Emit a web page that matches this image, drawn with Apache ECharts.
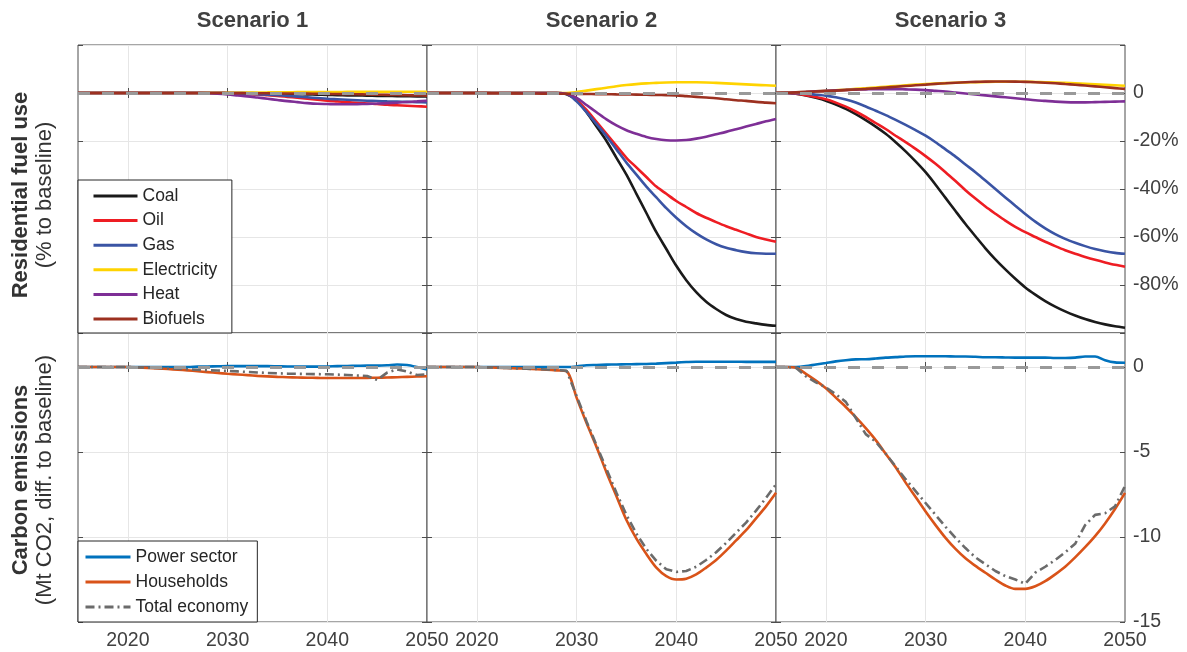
<!DOCTYPE html>
<html>
<head>
<meta charset="utf-8">
<title>Residential fuel use and carbon emissions by scenario</title>
<script src="https://cdn.jsdelivr.net/npm/echarts@6.0.0/dist/echarts.min.js"></script>
<style>
  html, body { margin: 0; padding: 0; background: #fff; }
  #chart { width: 1187px; height: 652px; }
</style>
</head>
<body>
<div id="chart"></div>
<script>
// ---- data -------------------------------------------------------------
const years = [2015, 2016, 2017, 2018, 2019, 2020, 2021, 2022, 2023, 2024,
               2025, 2026, 2027, 2028, 2029, 2030, 2031, 2032, 2033, 2034,
               2035, 2036, 2037, 2038, 2039, 2040, 2041, 2042, 2043, 2044,
               2045, 2046, 2047, 2048, 2049, 2050];

const scenarioTitles = ['Scenario 1', 'Scenario 2', 'Scenario 3'];
const xTickYears = [2020, 2030, 2040];
const xLabelYears = [2020, 2030, 2040, 2050];
const baselineLevel = 0;

// Residential fuel use, % change to baseline
const coalS1 = [0, 0, 0, 0, 0, 0, 0, 0, 0, 0, 0, 0, 0, 0, 0, 0, 0,
  -0.05, -0.1, -0.2, -0.3, -0.4, -0.5, -0.6, -0.7, -0.8, -0.9, -1.0, -1.05, -1.1, -1.2, -1.25, -1.3, -1.35, -1.4, -1.4];
const oilS1 = [0, 0, 0, 0, 0, 0, 0, 0, 0, 0, 0, 0, 0, 0, 0,
  -0.1, -0.2, -0.4, -0.6, -0.9, -1.2, -1.6, -2.0, -2.4, -2.8, -3.2, -3.5, -3.8, -4.1, -4.4, -4.6, -4.9, -5.1, -5.3, -5.5, -5.7];
const gasS1 = [0, 0, 0, 0, 0, 0, 0, 0, 0, 0, 0, 0, 0, 0, 0,
  -0.1, -0.2, -0.35, -0.5, -0.7, -0.95, -1.2, -1.5, -1.8, -2.1, -2.4, -2.6, -2.8, -3.0, -3.2, -3.35, -3.5, -3.6, -3.7, -3.8, -3.9];
const electricityS1 = [0, 0, 0, 0, 0, 0, 0, 0, 0, 0, 0, 0, 0, 0, 0,
  0.05, 0.1, 0.15, 0.2, 0.25, 0.3, 0.32, 0.35, 0.37, 0.4, 0.42, 0.44, 0.45, 0.46, 0.47, 0.48, 0.49, 0.5, 0.5, 0.5, 0.5];
const heatS1 = [0, 0, 0, 0, 0, 0, 0, 0, 0, 0, 0, 0, 0,
  -0.1, -0.3, -0.6, -1.0, -1.4, -1.9, -2.4, -2.9, -3.4, -3.8, -4.2, -4.5, -4.6, -4.7, -4.7, -4.65, -4.55, -4.4, -4.2, -4.0, -3.75, -3.5, -3.2];
const biofuelsS1 = [0, 0, 0, 0, 0, 0, 0, 0, 0, 0, 0, 0, 0, 0, 0,
  -0.02, -0.05, -0.08, -0.1, -0.13, -0.16, -0.2, -0.24, -0.28, -0.32, -0.36, -0.42, -0.48, -0.55, -0.62, -0.7, -0.78, -0.86, -0.94, -1.02, -1.1];

const coalS2 = [0, 0, 0, 0, 0, 0, 0, 0, 0, 0, 0, 0, 0, 0,
  -0.5, -3, -8, -14, -20, -27, -34, -42, -50, -58, -65, -72, -78, -83, -87, -90, -92.5, -94.2, -95.3, -96, -96.6, -97];
const oilS2 = [0, 0, 0, 0, 0, 0, 0, 0, 0, 0, 0, 0, 0, 0,
  -0.3, -3, -7, -12, -17, -22, -27, -31, -35, -39, -42, -45, -47.5, -50, -52, -53.8, -55.5, -57, -58.5, -60, -61, -62];
const gasS2 = [0, 0, 0, 0, 0, 0, 0, 0, 0, 0, 0, 0, 0, 0,
  -0.3, -3.5, -8, -13, -18, -23.5, -29, -34, -39, -43.5, -48, -52, -55.5, -58.5, -61, -63, -64.5, -65.5, -66.3, -66.8, -67, -67];
const electricityS2 = [0, 0, 0, 0, 0, 0, 0, 0, 0, 0, 0, 0, 0, 0,
  0, 0.4, 1, 1.6, 2.2, 2.8, 3.3, 3.7, 4, 4.2, 4.4, 4.5, 4.5, 4.5, 4.4, 4.2, 4, 3.8, 3.6, 3.4, 3.2, 3];
const heatS2 = [0, 0, 0, 0, 0, 0, 0, 0, 0, 0, 0, 0, 0, 0,
  -0.3, -2, -5, -8, -11, -13.5, -15.5, -17, -18.3, -19.2, -19.7, -19.8, -19.6, -19, -18.2, -17.2, -16.2, -15.1, -14, -12.9, -11.8, -10.8];
const biofuelsS2 = [0, 0, 0, 0, 0,
  -0.03, -0.06, -0.1, -0.13, -0.16, -0.2, -0.23, -0.26, -0.3,
  -0.33, -0.37, -0.42, -0.47, -0.52, -0.57, -0.62, -0.68, -0.75, -0.83, -0.9, -1.0, -1.3, -1.6, -1.9, -2.2, -2.6, -3.0, -3.3, -3.7, -4.0, -4.3];

const coalS3 = [0, 0, -0.3, -1, -2, -3.2, -4.8, -6.6, -8.8, -11.3, -14, -17, -20.5, -24.3, -28.5, -33, -38.2, -43.7,
  -49.2, -54.6, -59.7, -64.7, -69.3, -73.5, -77.4, -81, -84, -86.7, -89, -91, -92.7, -94.2, -95.4, -96.4, -97.2, -97.8];
const oilS3 = [0, 0, -0.3, -0.9, -1.7, -2.6, -4, -5.7, -7.7, -10, -12.5, -15, -17.8, -20.5, -23.3, -26.3, -29.5, -33,
  -36.7, -40.5, -44, -47.3, -50.3, -53.2, -55.8, -58, -60, -62, -63.8, -65.5, -67, -68.3, -69.5, -70.6, -71.6, -72.4];
const gasS3 = [0, 0, -0.1, -0.3, -0.7, -1.1, -1.8, -2.7, -4, -5.6, -7.4, -9.2, -11.2, -13.3, -15.5, -17.8, -20.5, -23.5,
  -26.5, -29.8, -33, -36.5, -40, -43.5, -47, -50.4, -53.6, -56.4, -58.8, -60.8, -62.4, -63.8, -65, -65.9, -66.6, -67];
const electricityS3 = [0, 0.1, 0.3, 0.5, 0.7, 0.9, 1.1, 1.4, 1.7, 2, 2.3, 2.6, 2.9, 3.2, 3.5, 3.7, 3.9, 4.1,
  4.3, 4.4, 4.5, 4.6, 4.7, 4.7, 4.7, 4.7, 4.6, 4.5, 4.4, 4.2, 4, 3.8, 3.6, 3.4, 3.2, 3];
const heatS3 = [0, 0.1, 0.3, 0.5, 0.7, 0.9, 1.1, 1.3, 1.4, 1.5, 1.6, 1.6, 1.6, 1.5, 1.4, 1.2, 0.9, 0.6,
  0.2, -0.2, -0.6, -1, -1.4, -1.8, -2.2, -2.6, -3, -3.3, -3.6, -3.8, -3.9, -3.9, -3.8, -3.7, -3.6, -3.5];
const biofuelsS3 = [0, 0.1, 0.25, 0.4, 0.6, 0.8, 1, 1.2, 1.45, 1.7, 2, 2.3, 2.6, 2.9, 3.2, 3.5, 3.8, 4.05,
  4.3, 4.5, 4.65, 4.75, 4.8, 4.8, 4.75, 4.65, 4.5, 4.3, 4.05, 3.75, 3.45, 3.1, 2.75, 2.4, 2.05, 1.7];

// Carbon emissions, Mt CO2 difference to baseline
const powerS1 = [0, 0, 0, 0, 0, 0, 0, 0, 0, 0, 0, 0,
  0.02, 0.03, 0.04, 0.05, 0.05, 0.05, 0.05, 0.05, 0.04, 0.03, 0.03, 0.02, 0.02, 0.03, 0.05, 0.06, 0.07, 0.08, 0.08, 0.1, 0.15, 0.12, 0, -0.15];
const householdsS1 = [0, 0, 0, 0, 0, 0,
  -0.02, -0.05, -0.08, -0.12, -0.16, -0.2, -0.25, -0.3, -0.35, -0.4, -0.44, -0.48, -0.52, -0.55, -0.58,
  -0.6, -0.62, -0.63, -0.64, -0.65, -0.65, -0.65, -0.65, -0.64, -0.63, -0.62, -0.6, -0.58, -0.56, -0.54];
const totalS1 = [0, 0, 0, 0, 0, 0,
  -0.02, -0.04, -0.06, -0.08, -0.1, -0.13, -0.16, -0.19, -0.21, -0.23, -0.26, -0.29, -0.32, -0.35, -0.37,
  -0.39, -0.4, -0.41, -0.42, -0.43, -0.45, -0.47, -0.5, -0.53, -0.76, -0.33, -0.14, -0.27, -0.47, -0.43];

const powerS2 = [0, 0, 0, 0, 0, 0, 0, 0, 0, 0, 0, 0, 0, 0, 0,
  0.03, 0.1, 0.12, 0.14, 0.15, 0.16, 0.17, 0.18, 0.2, 0.23, 0.26, 0.29, 0.31, 0.31, 0.31, 0.31, 0.31, 0.3, 0.3, 0.3, 0.3];
const householdsS2 = [0, 0, 0, 0, 0, 0,
  -0.02, -0.04, -0.06, -0.08, -0.1, -0.13, -0.16, -0.2, -0.25, -1.8,
  -3.3, -4.7, -6.2, -7.6, -9.0, -10.1, -11.0, -11.8, -12.3, -12.5,
  -12.45, -12.2, -11.8, -11.35, -10.8, -10.2, -9.6, -8.9, -8.2, -7.4];
const totalS2 = [0, 0, 0, 0, 0, 0,
  -0.02, -0.04, -0.06, -0.08, -0.1, -0.12, -0.15, -0.18, -0.22, -1.7,
  -3.2, -4.6, -6.0, -7.4, -8.7, -9.8, -10.7, -11.4, -11.9, -12.05,
  -12.0, -11.75, -11.35, -10.9, -10.35, -9.75, -9.15, -8.45, -7.7, -6.9];

const powerS3 = [0, 0, 0, 0.05, 0.15, 0.24, 0.33, 0.4, 0.45, 0.46, 0.5, 0.55, 0.58, 0.62, 0.63, 0.63, 0.63, 0.63,
  0.62, 0.62, 0.6, 0.57, 0.57, 0.56, 0.55, 0.55, 0.55, 0.55, 0.53, 0.53, 0.55, 0.62, 0.62, 0.4, 0.27, 0.25];
const householdsS3 = [0, 0, -0.05, -0.4, -0.8, -1.25, -1.8, -2.35, -2.95, -3.6, -4.3, -5.1, -5.9, -6.8, -7.65, -8.5,
  -9.3, -10.05, -10.7, -11.25, -11.7, -12.1, -12.5, -12.85, -13.05, -13.05, -12.9, -12.6, -12.2, -11.75,
  -11.2, -10.6, -9.95, -9.2, -8.35, -7.4];
const totalS3 = [0, 0, -0.05, -0.55, -0.9, -1.2, -1.6, -2.05, -3.0, -3.95, -4.4, -5.1, -5.85, -6.6, -7.3, -8.0,
  -8.7, -9.4, -10.05, -10.65, -11.2, -11.6, -12.0, -12.3, -12.5, -12.75, -12.1, -11.75, -11.35, -10.9,
  -10.4, -9.3, -8.7, -8.6, -8.2, -7.0];

const fuelNames = ['Coal', 'Oil', 'Gas', 'Electricity', 'Heat', 'Biofuels'];
const fuelValues = [
  [coalS1, oilS1, gasS1, electricityS1, heatS1, biofuelsS1],
  [coalS2, oilS2, gasS2, electricityS2, heatS2, biofuelsS2],
  [coalS3, oilS3, gasS3, electricityS3, heatS3, biofuelsS3]
];
const emissionNames = ['Power sector', 'Households', 'Total economy'];
const emissionValues = [
  [powerS1, householdsS1, totalS1],
  [powerS2, householdsS2, totalS2],
  [powerS3, householdsS3, totalS3]
];

// ---- styling ----------------------------------------------------------
const FONT = '"Liberation Sans", Arial, Helvetica, sans-serif';
const fuelColors = ['#1a1a1a', '#ee1d23', '#3a54a4', '#ffd300', '#7e2f96', '#9c3020'];
const emissionStyles = [
  { color: '#0072bd', type: 'solid' },
  { color: '#d95319', type: 'solid' },
  { color: '#6b6b6b', type: [9, 4, 2, 4] }
];
const frameColor = '#4d4d4d';
const gridColor = '#e6e6e6';
const labelColor = '#404040';

const colLeft = [78, 427, 776];
const colWidth = 349;
const rowTop = [45, 333];
const rowHeight = [288, 289];
const rowTitleCenter = [195, 480];

const rowScale = [
  { min: -100, max: 20, interval: 20,
    fmt: v => (v === 0 ? '0' : (v < 0 && v > -100 ? v + '%' : '')) },
  { min: -15, max: 2, interval: 5,
    fmt: v => (v <= 0 ? String(v) : '') }
];

function makeTick() {
  return { show: true, inside: true, length: 5, lineStyle: { color: frameColor, width: 1 } };
}

const grids = [], xAxes = [], yAxes = [], series = [];

for (let r = 0; r < 2; r++) {
  for (let c = 0; c < 3; c++) {
    const g = r * 3 + c;
    grids.push({
      left: colLeft[c], top: rowTop[r], width: colWidth, height: rowHeight[r],
      show: true, borderColor: frameColor, borderWidth: 1, backgroundColor: '#fff',
      containLabel: false
    });
    xAxes.push({
      type: 'value', gridIndex: g, position: 'bottom', min: 2015, max: 2050,
      axisLine: { show: false },
      axisTick: Object.assign(makeTick(), { customValues: xTickYears }),
      axisLabel: {
        show: r === 1, customValues: xLabelYears, margin: 9,
        formatter: v => String(v),
        fontSize: 19.5, color: labelColor, fontFamily: FONT
      },
      splitLine: { show: true, lineStyle: { color: gridColor, width: 1 } }
    });
    xAxes.push({
      type: 'value', gridIndex: g, position: 'top', min: 2015, max: 2050,
      axisLine: { show: false },
      axisTick: Object.assign(makeTick(), { customValues: xTickYears }),
      axisLabel: { show: false },
      splitLine: { show: false }
    });
    const sc = rowScale[r];
    yAxes.push({
      type: 'value', gridIndex: g, position: 'left',
      min: sc.min, max: sc.max, interval: sc.interval,
      axisLine: { show: false }, axisTick: makeTick(), axisLabel: { show: false },
      splitLine: { show: true, lineStyle: { color: gridColor, width: 1 } }
    });
    yAxes.push({
      type: 'value', gridIndex: g, position: 'right',
      min: sc.min, max: sc.max, interval: sc.interval,
      axisLine: { show: false }, axisTick: makeTick(),
      axisLabel: {
        show: c === 2, formatter: sc.fmt, margin: 8,
        fontSize: 19.5, color: labelColor, fontFamily: FONT
      },
      splitLine: { show: false }
    });

    const names = r === 0 ? fuelNames : emissionNames;
    const values = r === 0 ? fuelValues[c] : emissionValues[c];
    names.forEach((name, i) => {
      const st = r === 0 ? { color: fuelColors[i], type: 'solid' } : emissionStyles[i];
      const s = {
        type: 'line', name: name,
        xAxisIndex: 2 * g, yAxisIndex: 2 * g,
        data: years.map((y, k) => [y, values[i][k]]),
        symbol: 'none', showSymbol: false,
        smooth: (r === 1 && i === 2) ? false : 0.3,
        color: st.color,
        lineStyle: { color: st.color, width: 2.6, type: st.type, cap: 'butt' },
        emphasis: { disabled: true },
        silent: true
      };
      if (i === names.length - 1) {
        s.markLine = {
          silent: true, symbol: 'none', animation: false,
          label: { show: false },
          lineStyle: { color: '#999999', width: 3, type: [12, 12] },
          emphasis: { disabled: true },
          data: [{ yAxis: baselineLevel }]
        };
      }
      series.push(s);
    });
  }
}

const graphics = [];
scenarioTitles.forEach((t, c) => {
  graphics.push({
    type: 'text', x: colLeft[c] + colWidth / 2, y: 21, silent: true,
    style: {
      text: t, font: 'bold 22px ' + FONT, fill: '#404040',
      align: 'center', verticalAlign: 'middle', textAlign: 'center', textVerticalAlign: 'middle'
    }
  });
});
const rowTitles = [
  ['Residential fuel use', '(% to baseline)'],
  ['Carbon emissions', '(Mt CO2, diff. to baseline)']
];
rowTitles.forEach((pair, r) => {
  const cy = rowTitleCenter[r];
  graphics.push({
    type: 'text', x: 21, y: cy, rotation: Math.PI / 2, silent: true,
    style: {
      text: pair[0], font: 'bold 22px ' + FONT, fill: '#333333',
      align: 'center', verticalAlign: 'middle', textAlign: 'center', textVerticalAlign: 'middle'
    }
  });
  graphics.push({
    type: 'text', x: 45, y: cy, rotation: Math.PI / 2, silent: true,
    style: {
      text: pair[1], font: '22px ' + FONT, fill: '#333333',
      align: 'center', verticalAlign: 'middle', textAlign: 'center', textVerticalAlign: 'middle'
    }
  });
});

const legendText = { fontSize: 17.5, color: '#262626', fontFamily: FONT };
const legendSymbolHidden = { color: 'transparent', borderColor: 'transparent', borderWidth: 0, opacity: 0 };

const option = {
  animation: false,
  backgroundColor: '#ffffff',
  grid: grids,
  xAxis: xAxes,
  yAxis: yAxes,
  legend: [
    {
      data: fuelNames, orient: 'vertical', left: 78, top: 180,
      padding: [7, 14.5, 5, 14], itemWidth: 44, itemHeight: 18, itemGap: 6.6,
      backgroundColor: '#ffffff', borderColor: '#262626', borderWidth: 1,
      itemStyle: legendSymbolHidden, lineStyle: { width: 3 },
      selectedMode: false, textStyle: legendText, z: 10
    },
    {
      data: emissionNames, orient: 'vertical', left: 78, top: 541,
      padding: [7, 9, 6, 6], itemWidth: 45, itemHeight: 18, itemGap: 7,
      backgroundColor: '#ffffff', borderColor: '#262626', borderWidth: 1,
      itemStyle: legendSymbolHidden, lineStyle: { width: 3 },
      selectedMode: false, textStyle: legendText, z: 10
    }
  ],
  graphic: graphics,
  series: series
};

const chart = echarts.init(document.getElementById('chart'), null, { renderer: 'canvas' });
chart.setOption(option);
</script>
</body>
</html>
